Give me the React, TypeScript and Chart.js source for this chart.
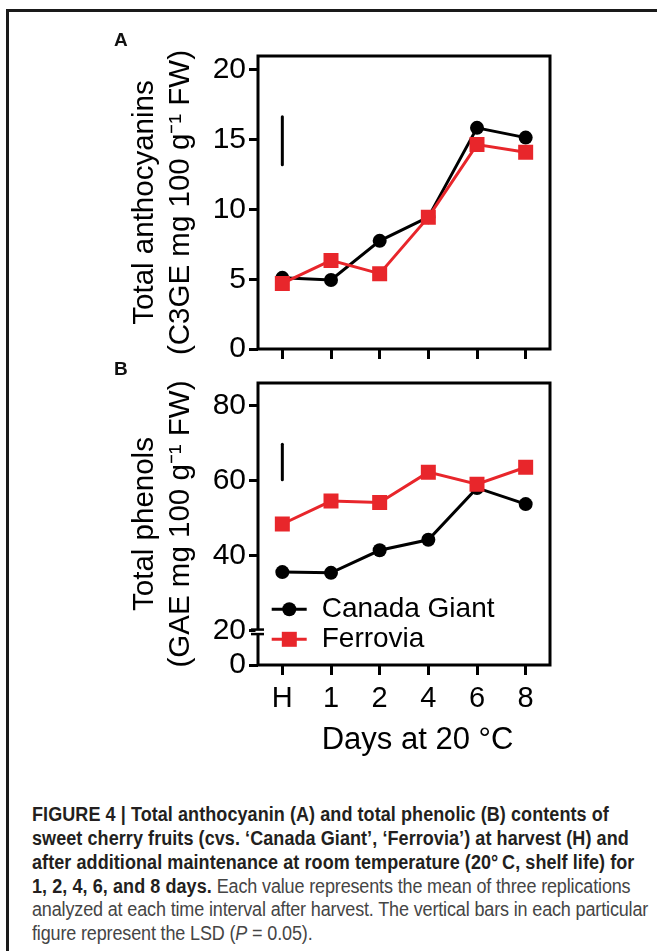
import React, { useEffect, useRef } from 'react';
import { Chart, registerables } from 'chart.js';

Chart.register(...registerables);

// ---------------- data ----------------
const days = ['H', '1', '2', '4', '6', '8'];
const seriesNames = ['Canada Giant', 'Ferrovia'];

const anthocyaninCanadaGiant = [5.1, 4.95, 7.75, 9.45, 15.85, 15.15];
const anthocyaninFerrovia = [4.7, 6.35, 5.4, 9.45, 14.65, 14.1];
const anthocyaninLsd = [13.2, 16.65];
const anthocyaninTicks = [0, 5, 10, 15, 20];

const phenolCanadaGiant = [35.6, 35.4, 41.4, 44.2, 58.0, 53.7];
const phenolFerrovia = [48.4, 54.5, 54.1, 62.2, 59.0, 63.5];
const phenolLsd = [60.2, 69.6];
const phenolTicks = [0, 20, 40, 60, 80];

const titleA = ['Total anthocyanins', '(C3GE mg 100 g\u207B\u00B9 FW)'];
const titleB = ['Total phenols', '(GAE mg 100 g\u207B\u00B9 FW)'];
const xTitle = 'Days at 20 \u00B0C';

// ---------------- styling ----------------
const FONT = '"Liberation Sans", Arial, Helvetica, sans-serif';
const BLACK = '#000000';
const RED = '#e8262b';

// broken axis for panel B (0..20 compressed below the break)
const B_BREAK = 20;
const B_ZERO_POS = 10.87;
const B_BREAK_LOW_POS = 18.4;
const B_MAX = 85.93;
const toAxisB = (v: number) =>
  v >= B_BREAK ? v : B_ZERO_POS + (v * (B_BREAK_LOW_POS - B_ZERO_POS)) / B_BREAK;
const identity = (v: number) => v;

const frameBox = {
  id: 'frameBox',
  afterDraw(chart: any) {
    const { ctx, chartArea: a } = chart;
    ctx.save();
    ctx.strokeStyle = BLACK;
    ctx.lineWidth = 3;
    ctx.lineJoin = 'miter';
    ctx.strokeRect(a.left, a.top, a.right - a.left, a.bottom - a.top);
    ctx.restore();
  },
};

const axisBreak = {
  id: 'axisBreak',
  afterDraw(chart: any) {
    const { ctx, chartArea: a } = chart;
    const y = chart.scales.y;
    const yTop = y.getPixelForValue(B_BREAK + 0.3);
    const yBot = y.getPixelForValue(B_BREAK - 0.9);
    ctx.save();
    ctx.fillStyle = '#ffffff';
    ctx.fillRect(a.left - 2.5, yTop, 5, yBot - yTop);
    ctx.strokeStyle = BLACK;
    ctx.lineWidth = 2.5;
    [yTop, yBot].forEach((yy) => {
      ctx.beginPath();
      ctx.moveTo(a.left - 7, yy);
      ctx.lineTo(a.left + 6, yy);
      ctx.stroke();
    });
    ctx.restore();
  },
};

const cornerLegend = {
  id: 'cornerLegend',
  afterDraw(chart: any) {
    const { ctx, chartArea: a } = chart;
    const items = chart.data.datasets.filter((d: any) => d.inLegend);
    items.forEach((d: any, i: number) => {
      const y = a.bottom - 55.7 + i * 30;
      const x0 = a.left + 13.7;
      const x1 = a.left + 48.7;
      const xm = a.left + 31.3;
      ctx.save();
      ctx.strokeStyle = d.borderColor;
      ctx.lineWidth = 3;
      ctx.beginPath();
      ctx.moveTo(x0, y);
      ctx.lineTo(x1, y);
      ctx.stroke();
      ctx.fillStyle = d.borderColor;
      if (d.pointStyle === 'rect') {
        const h = d.pointRadius * Math.SQRT1_2;
        ctx.fillRect(xm - h, y - h, 2 * h, 2 * h);
      } else {
        ctx.beginPath();
        ctx.arc(xm, y, d.pointRadius, 0, Math.PI * 2);
        ctx.fill();
      }
      ctx.fillStyle = BLACK;
      ctx.font = `28px ${FONT}`;
      ctx.textBaseline = 'middle';
      ctx.textAlign = 'left';
      ctx.fillText(d.label, a.left + 63.7, y);
      ctx.restore();
    });
  },
};

const bottomTitle = {
  id: 'bottomTitle',
  afterDraw(chart: any) {
    const { ctx, chartArea: a } = chart;
    ctx.save();
    ctx.fillStyle = BLACK;
    ctx.font = `31px ${FONT}`;
    ctx.textAlign = 'center';
    ctx.textBaseline = 'middle';
    ctx.fillText(xTitle, (a.left + a.right) / 2 + 13.5, a.bottom + 75);
    ctx.restore();
  },
};

function yScale(min: number, max: number, tickVals: number[], map: (v: number) => number, title: string[]) {
  return {
    type: 'linear',
    min,
    max,
    bounds: 'data',
    afterFit: (s: any) => {
      s.width = 258;
    },
    afterBuildTicks: (s: any) => {
      s.ticks = tickVals.map((v) => ({ value: map(v) }));
    },
    ticks: {
      callback: (_v: any, i: number) => String(tickVals[i]),
      font: { size: 30, family: FONT },
      color: BLACK,
      padding: 3,
    },
    grid: { drawOnChartArea: false, drawTicks: true, tickLength: 9, lineWidth: 3, color: BLACK },
    border: { display: false },
    title: {
      display: true,
      text: title,
      color: BLACK,
      font: { size: 29.5, family: FONT, lineHeight: 1.22 },
      padding: { top: 127, bottom: 0 },
    },
  };
}

function xScale(showLabels: boolean, height: number) {
  return {
    type: 'category',
    offset: true,
    afterFit: (s: any) => {
      s.height = height;
    },
    grid: { offset: false, drawOnChartArea: false, drawTicks: true, tickLength: 10, lineWidth: 3, color: BLACK },
    border: { display: false },
    ticks: {
      display: showLabels,
      font: { size: 29, family: FONT },
      color: BLACK,
      padding: 7,
      maxRotation: 0,
      autoSkip: false,
    },
  };
}

function seriesDatasets(black: number[], red: number[], lsd: number[], map: (v: number) => number) {
  return [
    {
      label: seriesNames[0],
      inLegend: true,
      data: black.map(map),
      borderColor: BLACK,
      backgroundColor: BLACK,
      pointBackgroundColor: BLACK,
      pointBorderColor: BLACK,
      pointStyle: 'circle',
      pointRadius: 7,
      pointBorderWidth: 0,
      borderWidth: 3,
      tension: 0,
      order: 1,
    },
    {
      label: seriesNames[1],
      inLegend: true,
      data: red.map(map),
      borderColor: RED,
      backgroundColor: RED,
      pointBackgroundColor: RED,
      pointBorderColor: RED,
      pointStyle: 'rect',
      pointRadius: 10.6,
      pointBorderWidth: 0,
      borderWidth: 3,
      tension: 0,
      order: 0,
    },
    {
      label: 'LSD (P = 0.05)',
      inLegend: false,
      data: lsd.map((v) => ({ x: days[0], y: map(v) })),
      borderColor: BLACK,
      borderWidth: 3,
      borderCapStyle: 'round',
      pointRadius: 0,
      order: 2,
    },
  ];
}

const baseOptions = {
  responsive: false,
  maintainAspectRatio: false,
  animation: false,
  devicePixelRatio: 1,
  events: [],
  plugins: { legend: { display: false }, tooltip: { enabled: false }, title: { display: false } },
};

function makeChartA(): any {
  return {
    type: 'line',
    data: {
      labels: days,
      datasets: seriesDatasets(anthocyaninCanadaGiant, anthocyaninFerrovia, anthocyaninLsd, identity),
    },
    options: {
      ...baseOptions,
      layout: { autoPadding: false, padding: { left: 0, top: 56, right: 107, bottom: 0 } },
      scales: {
        x: xScale(false, 31),
        y: yScale(0, 21, anthocyaninTicks, identity, titleA),
      },
    },
    plugins: [frameBox],
  };
}

function makeChartB(): any {
  return {
    type: 'line',
    data: {
      labels: days,
      datasets: seriesDatasets(phenolCanadaGiant, phenolFerrovia, phenolLsd, toAxisB),
    },
    options: {
      ...baseOptions,
      layout: { autoPadding: false, padding: { left: 0, top: 8, right: 107, bottom: 0 } },
      scales: {
        x: xScale(true, 95),
        y: yScale(toAxisB(0), B_MAX, phenolTicks, toAxisB, titleB),
      },
    },
    plugins: [frameBox, axisBreak, cornerLegend, bottomTitle],
  };
}

function ChartPanel({ make, top, height }: { make: () => any; top: number; height: number }) {
  const ref = useRef<HTMLCanvasElement>(null);
  useEffect(() => {
    const chart = new Chart(ref.current as HTMLCanvasElement, make());
    return () => chart.destroy();
  }, [make]);
  return (
    <canvas
      ref={ref}
      width={657}
      height={height}
      style={{ position: 'absolute', left: 0, top, width: 657, height }}
    />
  );
}

const panelLabel: React.CSSProperties = {
  position: 'absolute',
  left: 114,
  fontFamily: FONT,
  fontWeight: 'bold',
  fontSize: 19,
  lineHeight: '19px',
  color: '#111',
};

const boldStyle: React.CSSProperties = { fontWeight: 'bold', color: '#231f20', letterSpacing: '0.085px' };
const regStyle: React.CSSProperties = { fontWeight: 'normal', color: '#454545', letterSpacing: '-0.16px' };

export default function App() {
  return (
    <div
      style={{
        position: 'absolute',
        left: 0,
        top: 0,
        width: 657,
        height: 951,
        overflow: 'hidden',
        background: '#ffffff',
      }}
    >
      <div
        style={{
          position: 'absolute',
          left: 6,
          top: 9,
          width: 720,
          height: 1000,
          borderTop: '3px solid #1a1a1a',
          borderLeft: '3px solid #1a1a1a',
        }}
      />
      <ChartPanel make={makeChartA} top={0} height={380} />
      <ChartPanel make={makeChartB} top={362} height={398} />
      <div style={{ ...panelLabel, top: 30 }}>A</div>
      <div style={{ ...panelLabel, top: 358.5 }}>B</div>
      <div
        style={{
          position: 'absolute',
          left: 31.7,
          top: 803.3,
          fontFamily: FONT,
          fontSize: 20,
          lineHeight: '23.8px',
          whiteSpace: 'nowrap',
          transform: 'scaleX(0.9)',
          transformOrigin: 'left top',
        }}
      >
        <span style={boldStyle}>FIGURE 4 | Total anthocyanin (A) and total phenolic (B) contents of</span>
        <br />
        <span style={boldStyle}>
          sweet cherry fruits (cvs. {'\u2018'}Canada Giant{'\u2019'}, {'\u2018'}Ferrovia{'\u2019'}) at harvest (H) and
        </span>
        <br />
        <span style={boldStyle}>
          after additional maintenance at room temperature (20{'\u00B0\u2009'}C, shelf life) for
        </span>
        <br />
        <span style={boldStyle}>1, 2, 4, 6, and 8 days.</span>
        <span style={regStyle}> Each value represents the mean of three replications</span>
        <br />
        <span style={regStyle}>
          analyzed at each time interval after harvest. The vertical bars in each particular
        </span>
        <br />
        <span style={regStyle}>
          figure represent the LSD (<i>P</i> = 0.05).
        </span>
      </div>
    </div>
  );
}
